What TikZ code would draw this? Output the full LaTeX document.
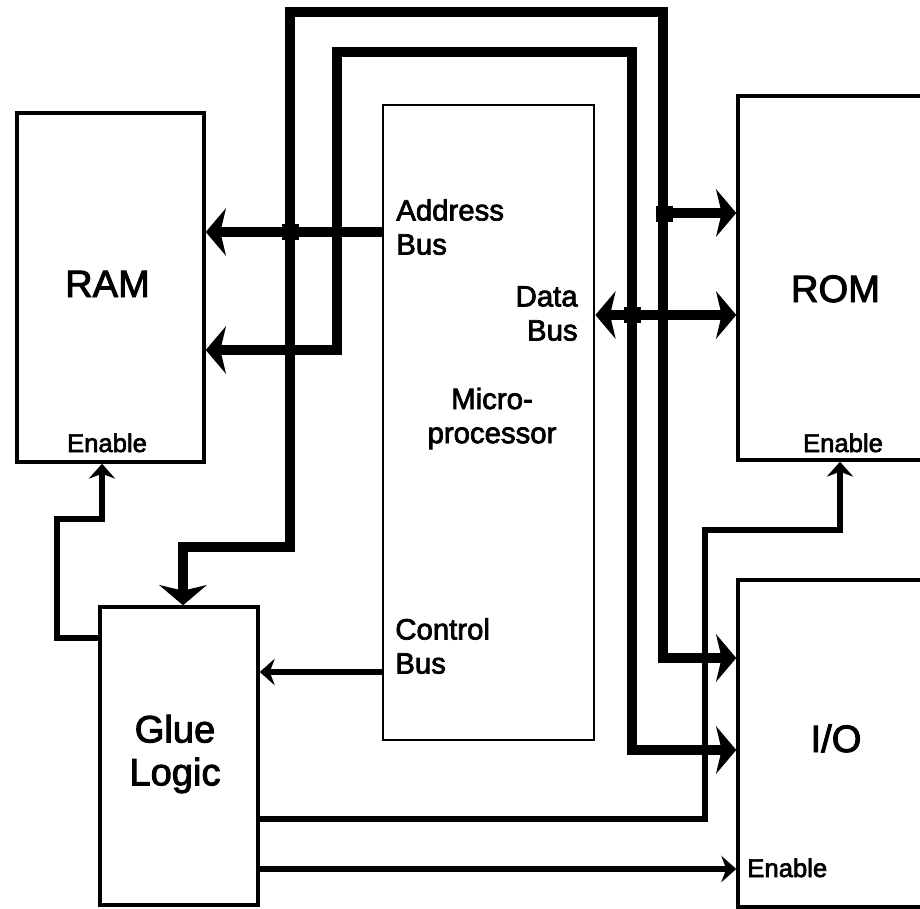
\documentclass[tikz,border=0pt]{standalone}
\usepackage{fontspec}
\setmainfont{Liberation Sans}[FakeBold=2.5]
\usetikzlibrary{arrows.meta}
\tikzset{
  bigtip/.tip={Stealth[length=11.5pt,width=27pt,inset=3.2pt]},
  smalltip/.tip={Stealth[length=8.5pt,width=15pt,inset=2.8pt]},
  box/.style={draw, line width=2pt, inner sep=0pt},
  cpubox/.style={draw, line width=1.6pt, inner sep=0pt},
  bus/.style={line width=5.67pt, line join=miter},
  sig/.style={line width=3pt, line join=miter},
  junc/.style={fill=black, inner sep=0pt, minimum size=0.34cm},
  big/.style={inner sep=0pt, font=\fontsize{21.7}{24.4}\selectfont},
  mid/.style={inner sep=0pt, font=\fontsize{16.7}{19.4}\selectfont},
  small/.style={inner sep=0pt, font=\fontsize{14.6}{17}\selectfont},
}
\begin{document}
\begin{tikzpicture}[x=0.02cm, y=-0.02cm]
\useasboundingbox (0,0) rectangle (920,909);
% boxes
\node[box, minimum width=3.74cm, minimum height=6.98cm] (ram) at (110.5,287.5) {};
\node[cpubox, minimum width=4.22cm, minimum height=12.7cm] (cpu) at (488.5,422.5) {};
\node[box, minimum width=4.44cm, minimum height=7.28cm] (rom) at (849,278) {};
\node[box, minimum width=4.44cm, minimum height=6.54cm] (io) at (849,743.5) {};
\node[box, minimum width=3.16cm, minimum height=5.96cm] (glue) at (179,756) {};
% labels
\node[big, anchor=base] (ramlbl) at (107.5,297) {RAM};
\node[big, anchor=base] (romlbl) at (835.5,302) {ROM};
\node[big, anchor=base] (iolbl) at (836,752) {I/O};
\node[big, align=center] (gluelbl) at (175,754) {Glue\\Logic};
\node[mid, align=center] (cpulbl) at (492,418.5) {Micro-\\processor};
\node[mid, align=left, anchor=west] (addrlbl) at (396,227) {Address\\Bus};
\node[mid, align=right, anchor=east] (datalbl) at (578,313.5) {Data\\Bus};
\node[mid, align=left, anchor=west] (ctrllbl) at (395,646) {Control\\Bus};
\node[small, anchor=base] (ramen) at (107,452) {Enable};
\node[small, anchor=base] (romen) at (843,452) {Enable};
\node[small, anchor=base west] (ioen) at (747,877) {Enable};
% outer address bus loop: glue <- ... -> io
\draw[bus, {bigtip}-{bigtip}] (glue.north -| 183,0) -- (183,547) -- (290,547)
  -- (290,12) -- (663,12) -- (663,658) -- (io.west |- 0,658);
% address bus to RAM and ROM
\draw[bus, -{bigtip}] (cpu.west |- 0,232) -- (ram.east |- 0,232);
\draw[bus, -{bigtip}] (663,213) -- (rom.west |- 0,213);
\node[junc] (j1) at (290,232) {};
\node[junc] (j2) at (664,214) {};
% inner data bus loop: RAM <- ... -> io
\draw[bus, {bigtip}-{bigtip}] (ram.east |- 0,350) -- (337,350) -- (337,52)
  -- (632,52) -- (632,750) -- (io.west |- 0,750);
% data bus to ROM
\draw[bus, {bigtip}-{bigtip}] (cpu.east |- 0,315) -- (rom.west |- 0,315);
\node[junc] (j3) at (632,315) {};
% control bus
\draw[sig, -{smalltip}] (cpu.west |- 0,672) -- (glue.east |- 0,672);
% enables
\draw[sig, -{smalltip}] (glue.west |- 0,638) -- (57,638) -- (57,519) -- (102,519) -- (ram.south -| 102,0);
\draw[sig, -{smalltip}] (glue.east |- 0,819) -- (705,819) -- (705,530) -- (840,530) -- (rom.south -| 840,0);
\draw[sig, -{smalltip}] (glue.east |- 0,869) -- (io.west |- 0,869);
\end{tikzpicture}
\end{document}
